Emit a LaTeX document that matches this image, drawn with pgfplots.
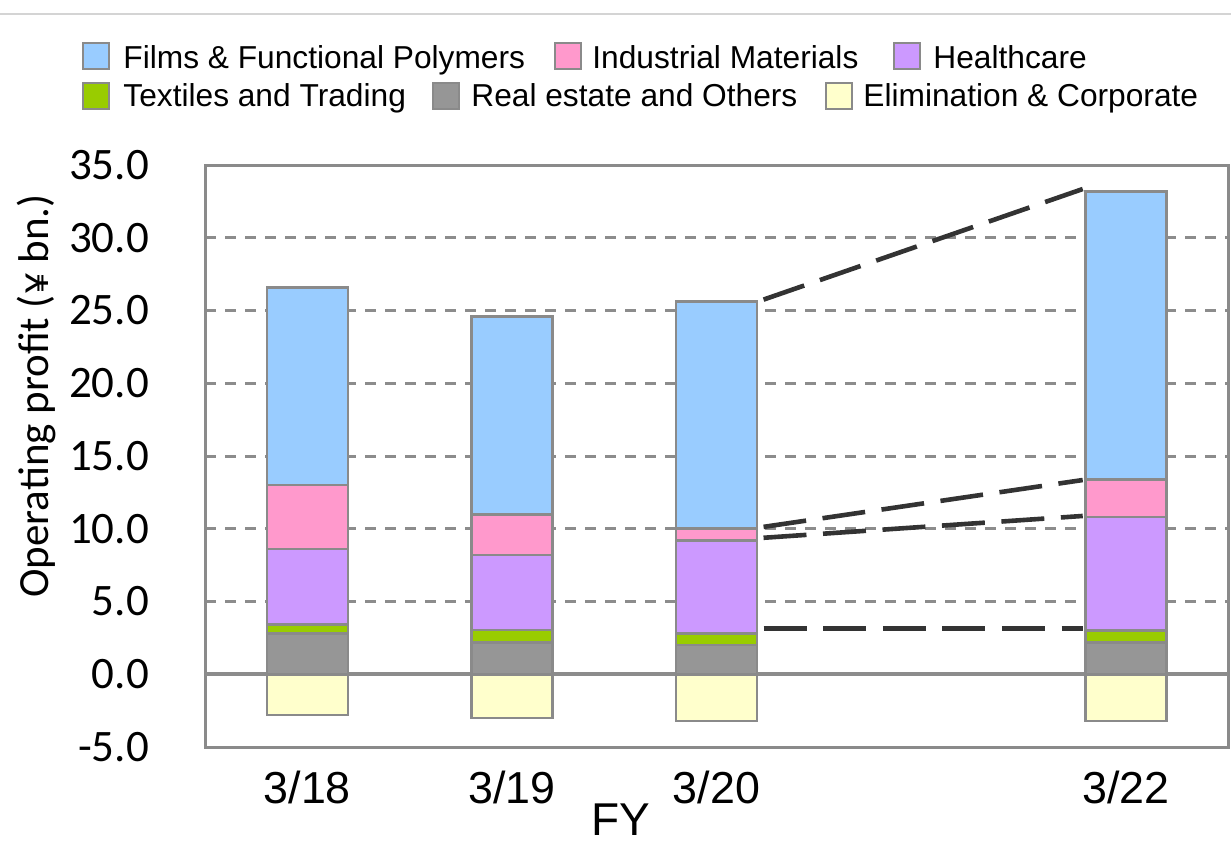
\documentclass[border=0pt]{standalone}
\usepackage{fontspec}
\setmainfont{Carlito}
\newfontfamily\arial{Liberation Sans}
\usepackage{pgfplots}
\pgfplotsset{compat=1.18}
\definecolor{cFilms}{HTML}{99CCFF}
\definecolor{cIM}{HTML}{FF99CC}
\definecolor{cHC}{HTML}{CC99FF}
\definecolor{cTex}{HTML}{99CC00}
\definecolor{cRE}{HTML}{969696}
\definecolor{cElim}{HTML}{FFFFCC}
\definecolor{cEdge}{HTML}{8A8A8A}
\definecolor{cGrid}{HTML}{8C8C8C}
\definecolor{cAxis}{HTML}{8A8A8A}
\definecolor{cDash}{HTML}{333333}
\definecolor{cTop}{HTML}{D4D4D4}
\pgfplotsset{base/.style={at={(102.5pt,-373.5pt)}, anchor=south west, scale only axis,
  width=511.5pt, height=291pt, xmin=-0.5, xmax=4.5, ymin=-5, ymax=35}}
\begin{document}
\begin{tikzpicture}
\useasboundingbox (0,0) rectangle (615.5pt,-424pt);
\begin{scope}[x=0.5pt,y=-0.5pt]
  \draw[cTop, line width=1pt] (0,14) -- (1231,14);
  % legend
  \def\lfont{\arial\fontsize{15.85}{18}\selectfont}
  \draw[cEdge, line width=1pt, fill=cFilms] (83,43) rectangle (109,69);
  \node[anchor=base west, inner sep=0] at (123,68.5) {\lfont Films \& Functional Polymers};
  \draw[cEdge, line width=1pt, fill=cIM] (555,43) rectangle (581,69);
  \node[anchor=base west, inner sep=0] at (592,68.5) {\lfont Industrial Materials};
  \draw[cEdge, line width=1pt, fill=cHC] (894,43) rectangle (920,69);
  \node[anchor=base west, inner sep=0] at (933,68.5) {\lfont Healthcare};
  \draw[cEdge, line width=1pt, fill=cTex] (83,83) rectangle (109,109);
  \node[anchor=base west, inner sep=0] at (123,106.5) {\lfont Textiles and Trading};
  \draw[cEdge, line width=1pt, fill=cRE] (433,83) rectangle (459,109);
  \node[anchor=base west, inner sep=0] at (471,106.5) {\lfont Real estate and Others};
  \draw[cEdge, line width=1pt, fill=cElim] (826,83) rectangle (852,109);
  \node[anchor=base west, inner sep=0] at (863,106.5) {\lfont Elimination \& Corporate};
  % axis titles
  \node[rotate=90, anchor=base, inner sep=0] at (48,396) {\fontsize{21.5}{24}\selectfont Operating profit (¥ bn.)};
  \node[anchor=base, inner sep=0] at (621,835) {\arial\fontsize{23}{26}\selectfont FY};
\end{scope}
\begin{axis}[base,
  axis line style={draw=cAxis, line width=1.5pt},
  xtick={0,1,2,4}, xticklabels={3/18,3/19,3/20,3/22},
  ytick={-5,0,5,10,15,20,25,30,35},
  yticklabels={-5.0,0.0,5.0,10.0,15.0,20.0,25.0,30.0,35.0},
  major tick length=0pt,
  ymajorgrids,
  major grid style={draw=cGrid, line width=1.5pt, dash pattern=on 5.5pt off 4.5pt},
  extra y ticks={0}, extra y tick labels={},
  extra y tick style={major grid style={draw=cGrid, line width=2pt, solid}},
  yticklabel style={font=\fontsize{22.5}{26}\selectfont, xshift=-24.5pt},
  xticklabel style={font=\arial\fontsize{22.4}{26}\selectfont, anchor=base, yshift=-28pt},
]
\addplot[ybar, bar width=40.5pt, fill=cElim, draw=cEdge, line width=1.3pt]
  coordinates {(0,-2.8) (1,-3.0) (2,-3.2) (4,-3.2)};
\addplot[cDash, line width=2.3pt, dash pattern=on 21.5pt off 8.3pt] coordinates {(2.23,25.75) (3.79,33.35)};
\addplot[cDash, line width=2.3pt, dash pattern=on 21.5pt off 8.3pt] coordinates {(2.23,10.13) (3.79,13.35)};
\addplot[cDash, line width=2.3pt, dash pattern=on 21.5pt off 8.3pt] coordinates {(2.23,9.38) (3.79,10.88)};
\addplot[cDash, line width=2.3pt, dash pattern=on 21.5pt off 8.3pt] coordinates {(2.23,3.16) (3.79,3.16)};
\end{axis}
\begin{axis}[base, hide axis, ybar stacked, bar width=40.5pt]
\addplot[fill=cRE, draw=cEdge, line width=1.3pt] coordinates {(0,2.8) (1,2.2) (2,2.0) (4,2.2)};
\addplot[fill=cTex, draw=cEdge, line width=1.3pt] coordinates {(0,0.6) (1,0.85) (2,0.8) (4,0.8)};
\addplot[fill=cHC, draw=cEdge, line width=1.3pt] coordinates {(0,5.2) (1,5.15) (2,6.4) (4,7.8)};
\addplot[fill=cIM, draw=cEdge, line width=1.3pt] coordinates {(0,4.4) (1,2.8) (2,0.8) (4,2.6)};
\addplot[fill=cFilms, draw=cEdge, line width=1.3pt] coordinates {(0,13.6) (1,13.6) (2,15.6) (4,19.8)};
\end{axis}
\end{tikzpicture}
\end{document}
